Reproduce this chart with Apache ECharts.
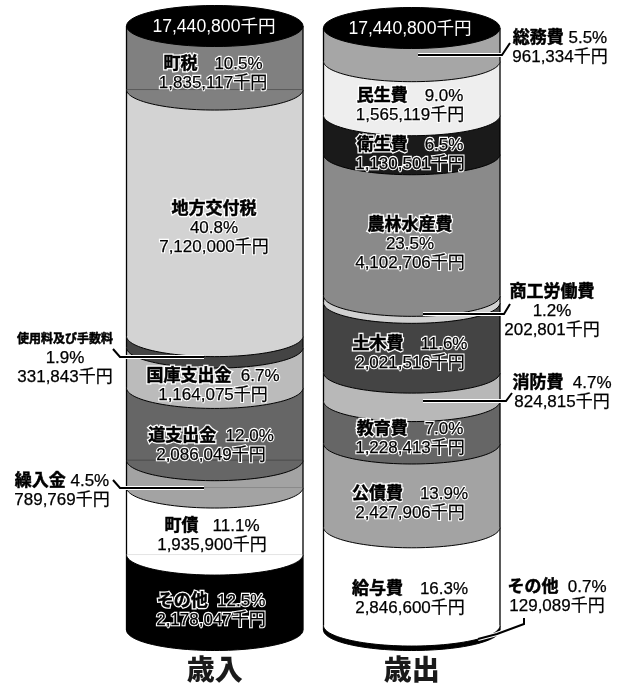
<!DOCTYPE html>
<html>
<head>
<meta charset="utf-8">
<style>html,body{margin:0;padding:0;background:#fff}#c{width:628px;height:684px}</style>
<script src="https://cdn.jsdelivr.net/npm/echarts@6/dist/echarts.min.js"></script>
</head>
<body>
<div id="c"></div>
<script>
var titles = ['歳入', '歳出'];
var totalLabel = '17,440,800千円';

var revNames = ['町税', '地方交付税', '使用料及び手数料', '国庫支出金', '道支出金', '繰入金', '町債', 'その他'];
var revValues = [1835117, 7120000, 331843, 1164075, 2086049, 789769, 1935900, 2178047];
var revPercents = ['10.5%', '40.8%', '1.9%', '6.7%', '12.0%', '4.5%', '11.1%', '12.5%'];
var revColors = ['#808080', '#d3d3d3', '#444444', '#bbbbbb', '#666666', '#a3a3a3', '#ffffff', '#000000'];
var revGaps = ['\u3000', '\n', '\n', '  ', '  ', ' ', '   ', '  '];
var revChords = ['#5a5a5a', null, null, null, '#4c4c4c', '#8a8a8a', '#e4e4e4', null];
// label centre [x, y] in pixels
var revLabelPos = [[213, 74], [214, 228.5], [65, 358.5], [213, 385.5], [211, 445.5], [62, 491], [212, 535.5], [211, 611]];

var expNames = ['総務費', '民生費', '衛生費', '農林水産費', '商工労働費', '土木費', '消防費', '教育費', '公債費', '給与費', 'その他'];
var expValues = [961334, 1565119, 1130501, 4102706, 202801, 2021516, 824815, 1228413, 2427906, 2846600, 129089];
var expPercents = ['5.5%', '9.0%', '6.5%', '23.5%', '1.2%', '11.6%', '4.7%', '7.0%', '13.9%', '16.3%', '0.7%'];
var expColors = ['#a6a6a6', '#eeeeee', '#1a1a1a', '#8a8a8a', '#d0d0d0', '#444444', '#b8b8b8', '#666666', '#a3a3a3', '#ffffff', '#000000'];
var expGaps = [' ', '\u3000', '\u3000', '\n', '\n', '\u3000', '  ', '\u3000', '\u3000', '\u3000', '  '];
var expLabelPos = [[560, 48], [410, 106], [410, 154.5], [410, 244.5], [552, 311.5], [410, 354], [562, 393], [410, 439], [410, 504], [410, 599], [557, 597]];

// leader lines from outside labels into their bands
var leaders = [
  [[113, 349], [120, 357], [204, 357]],
  [[113, 480], [120, 488], [204, 488]],
  [[510, 43], [502, 55], [418, 55]],
  [[510, 304], [504, 314], [423, 314]],
  [[512, 393], [506, 401], [423, 401]],
  [[524, 618], [524, 624], [497, 634], [478, 639]]
];

var FONT = '"Liberation Sans","Noto Sans CJK JP",sans-serif';
var RY = 20.5;

function buildData(catIndex, values) {
  var rows = [], acc = 0;
  values.forEach(function (v, i) {
    rows.push([catIndex, acc, acc + v, i]);
    acc += v;
  });
  return rows.reverse();
}

function makeRender(colors, chords) {
  return function (params, api) {
    var cat = api.value(0), idx = api.value(3);
    var p0 = api.coord([cat, api.value(1)]);
    var p1 = api.coord([cat, api.value(2)]);
    var w = api.size([1, 0])[0], rx = w / 2;
    var xl = p0[0] - rx, xr = p0[0] + rx;
    var arc = [];
    for (var k = 0; k <= 60; k++) {
      var t = Math.PI * k / 60;
      arc.push([p0[0] + rx * Math.cos(t), p1[1] + RY * Math.sin(t)]);
    }
    var kids = [
      { type: 'polygon', shape: { points: [[xl, p0[1]], [xr, p0[1]]].concat(arc) },
        style: { fill: colors[idx], stroke: null } }
    ];
    if (chords && chords[idx]) {
      kids.push({ type: 'line', shape: { x1: xl, y1: p1[1], x2: xr, y2: p1[1] },
        style: { stroke: chords[idx], lineWidth: 1, fill: null } });
    }
    kids.push({ type: 'polyline', shape: { points: arc }, style: { stroke: '#000', lineWidth: 1, fill: null } });
    kids.push({ type: 'line', shape: { x1: xl, y1: p0[1], x2: xl, y2: p1[1] }, style: { stroke: '#000', lineWidth: 1.3 } });
    kids.push({ type: 'line', shape: { x1: xr, y1: p0[1], x2: xr, y2: p1[1] }, style: { stroke: '#000', lineWidth: 1.3 } });
    if (idx === 0) {
      kids.push({ type: 'ellipse', shape: { cx: p0[0], cy: p0[1], rx: rx, ry: RY }, style: { fill: '#000', stroke: '#000' } });
    }
    return { type: 'group', children: kids };
  };
}

function total(arr) { return arr.reduce(function (a, b) { return a + b; }, 0); }

function labelEls(name, value, pct, gap, pos) {
  var amount = value.toLocaleString('en-US') + '千円';
  var nameStyle = name.length > 6 ? 's' : 'b';
  var sep = gap === '\n' ? '\n' : '{n|' + gap + '}';
  var text = '{' + nameStyle + '|' + name + '}' + sep + '{n|' + pct + '}\n{n|' + amount + '}';
  function layer(z, color, strokeN, widthN, strokeB, widthB) {
    return {
      type: 'text', x: pos[0], y: pos[1], z: z,
      style: {
        text: text, align: 'center', verticalAlign: 'middle', fill: color,
        font: '17px ' + FONT,
        rich: {
          b: { font: 'bold 17px ' + FONT, lineHeight: 18.7, fill: color, stroke: strokeB, lineWidth: widthB },
          s: { font: 'bold 12px ' + FONT, lineHeight: 18.7, fill: color, stroke: strokeB, lineWidth: widthB },
          n: { font: '17px ' + FONT, lineHeight: 18.7, fill: color, stroke: strokeN, lineWidth: widthN }
        }
      }
    };
  }
  return [
    layer(100, '#fff', '#fff', 2.4, '#fff', 3),
    layer(101, '#000', '#000', 0.25, '#000', 0.5)
  ];
}

var graphics = [];
leaders.forEach(function (pts) {
  graphics.push({ type: 'polyline', z: 90, shape: { points: pts }, style: { stroke: '#fff', lineWidth: 4, fill: null } });
});
leaders.forEach(function (pts) {
  graphics.push({ type: 'polyline', z: 91, shape: { points: pts }, style: { stroke: '#000', lineWidth: 2, fill: null } });
});
revNames.forEach(function (n, i) { graphics = graphics.concat(labelEls(n, revValues[i], revPercents[i], revGaps[i], revLabelPos[i])); });
expNames.forEach(function (n, i) { graphics = graphics.concat(labelEls(n, expValues[i], expPercents[i], expGaps[i], expLabelPos[i])); });
[[214, 27], [410, 29]].forEach(function (pos) {
  graphics.push({ type: 'text', x: pos[0], y: pos[1], z: 100,
    style: { text: totalLabel, align: 'center', verticalAlign: 'middle', fill: '#fff', font: '17.6px ' + FONT } });
});

var chart = echarts.init(document.getElementById('c'), null, { renderer: 'canvas' });
function xAxisFor(gridIndex, title) {
  return {
    gridIndex: gridIndex, type: 'category', data: [title], position: 'bottom',
    axisLine: { show: false }, axisTick: { show: false }, splitLine: { show: false },
    axisLabel: { show: true, margin: 24, fontSize: 28, fontWeight: 900, color: '#1a1a1a', fontFamily: '"Noto Sans CJK JP",sans-serif', lineHeight: 30 }
  };
}
function yAxisFor(gridIndex, values) {
  return { gridIndex: gridIndex, type: 'value', inverse: true, min: 0, max: total(values), show: false };
}
chart.setOption({
  animation: false,
  backgroundColor: '#fff',
  grid: [
    { left: 126.5, top: 26, width: 176.5, height: 605 },
    { left: 323.5, top: 28, width: 176.5, height: 602 }
  ],
  xAxis: [xAxisFor(0, titles[0]), xAxisFor(1, titles[1])],
  yAxis: [yAxisFor(0, revValues), yAxisFor(1, expValues)],
  series: [
    { type: 'custom', name: titles[0], xAxisIndex: 0, yAxisIndex: 0, clip: false, silent: true,
      renderItem: makeRender(revColors, revChords), data: buildData(0, revValues),
      encode: { x: 0, y: [1, 2] } },
    { type: 'custom', name: titles[1], xAxisIndex: 1, yAxisIndex: 1, clip: false, silent: true,
      renderItem: makeRender(expColors, null), data: buildData(0, expValues),
      encode: { x: 0, y: [1, 2] } }
  ],
  graphic: { elements: graphics }
});
</script>
</body>
</html>
